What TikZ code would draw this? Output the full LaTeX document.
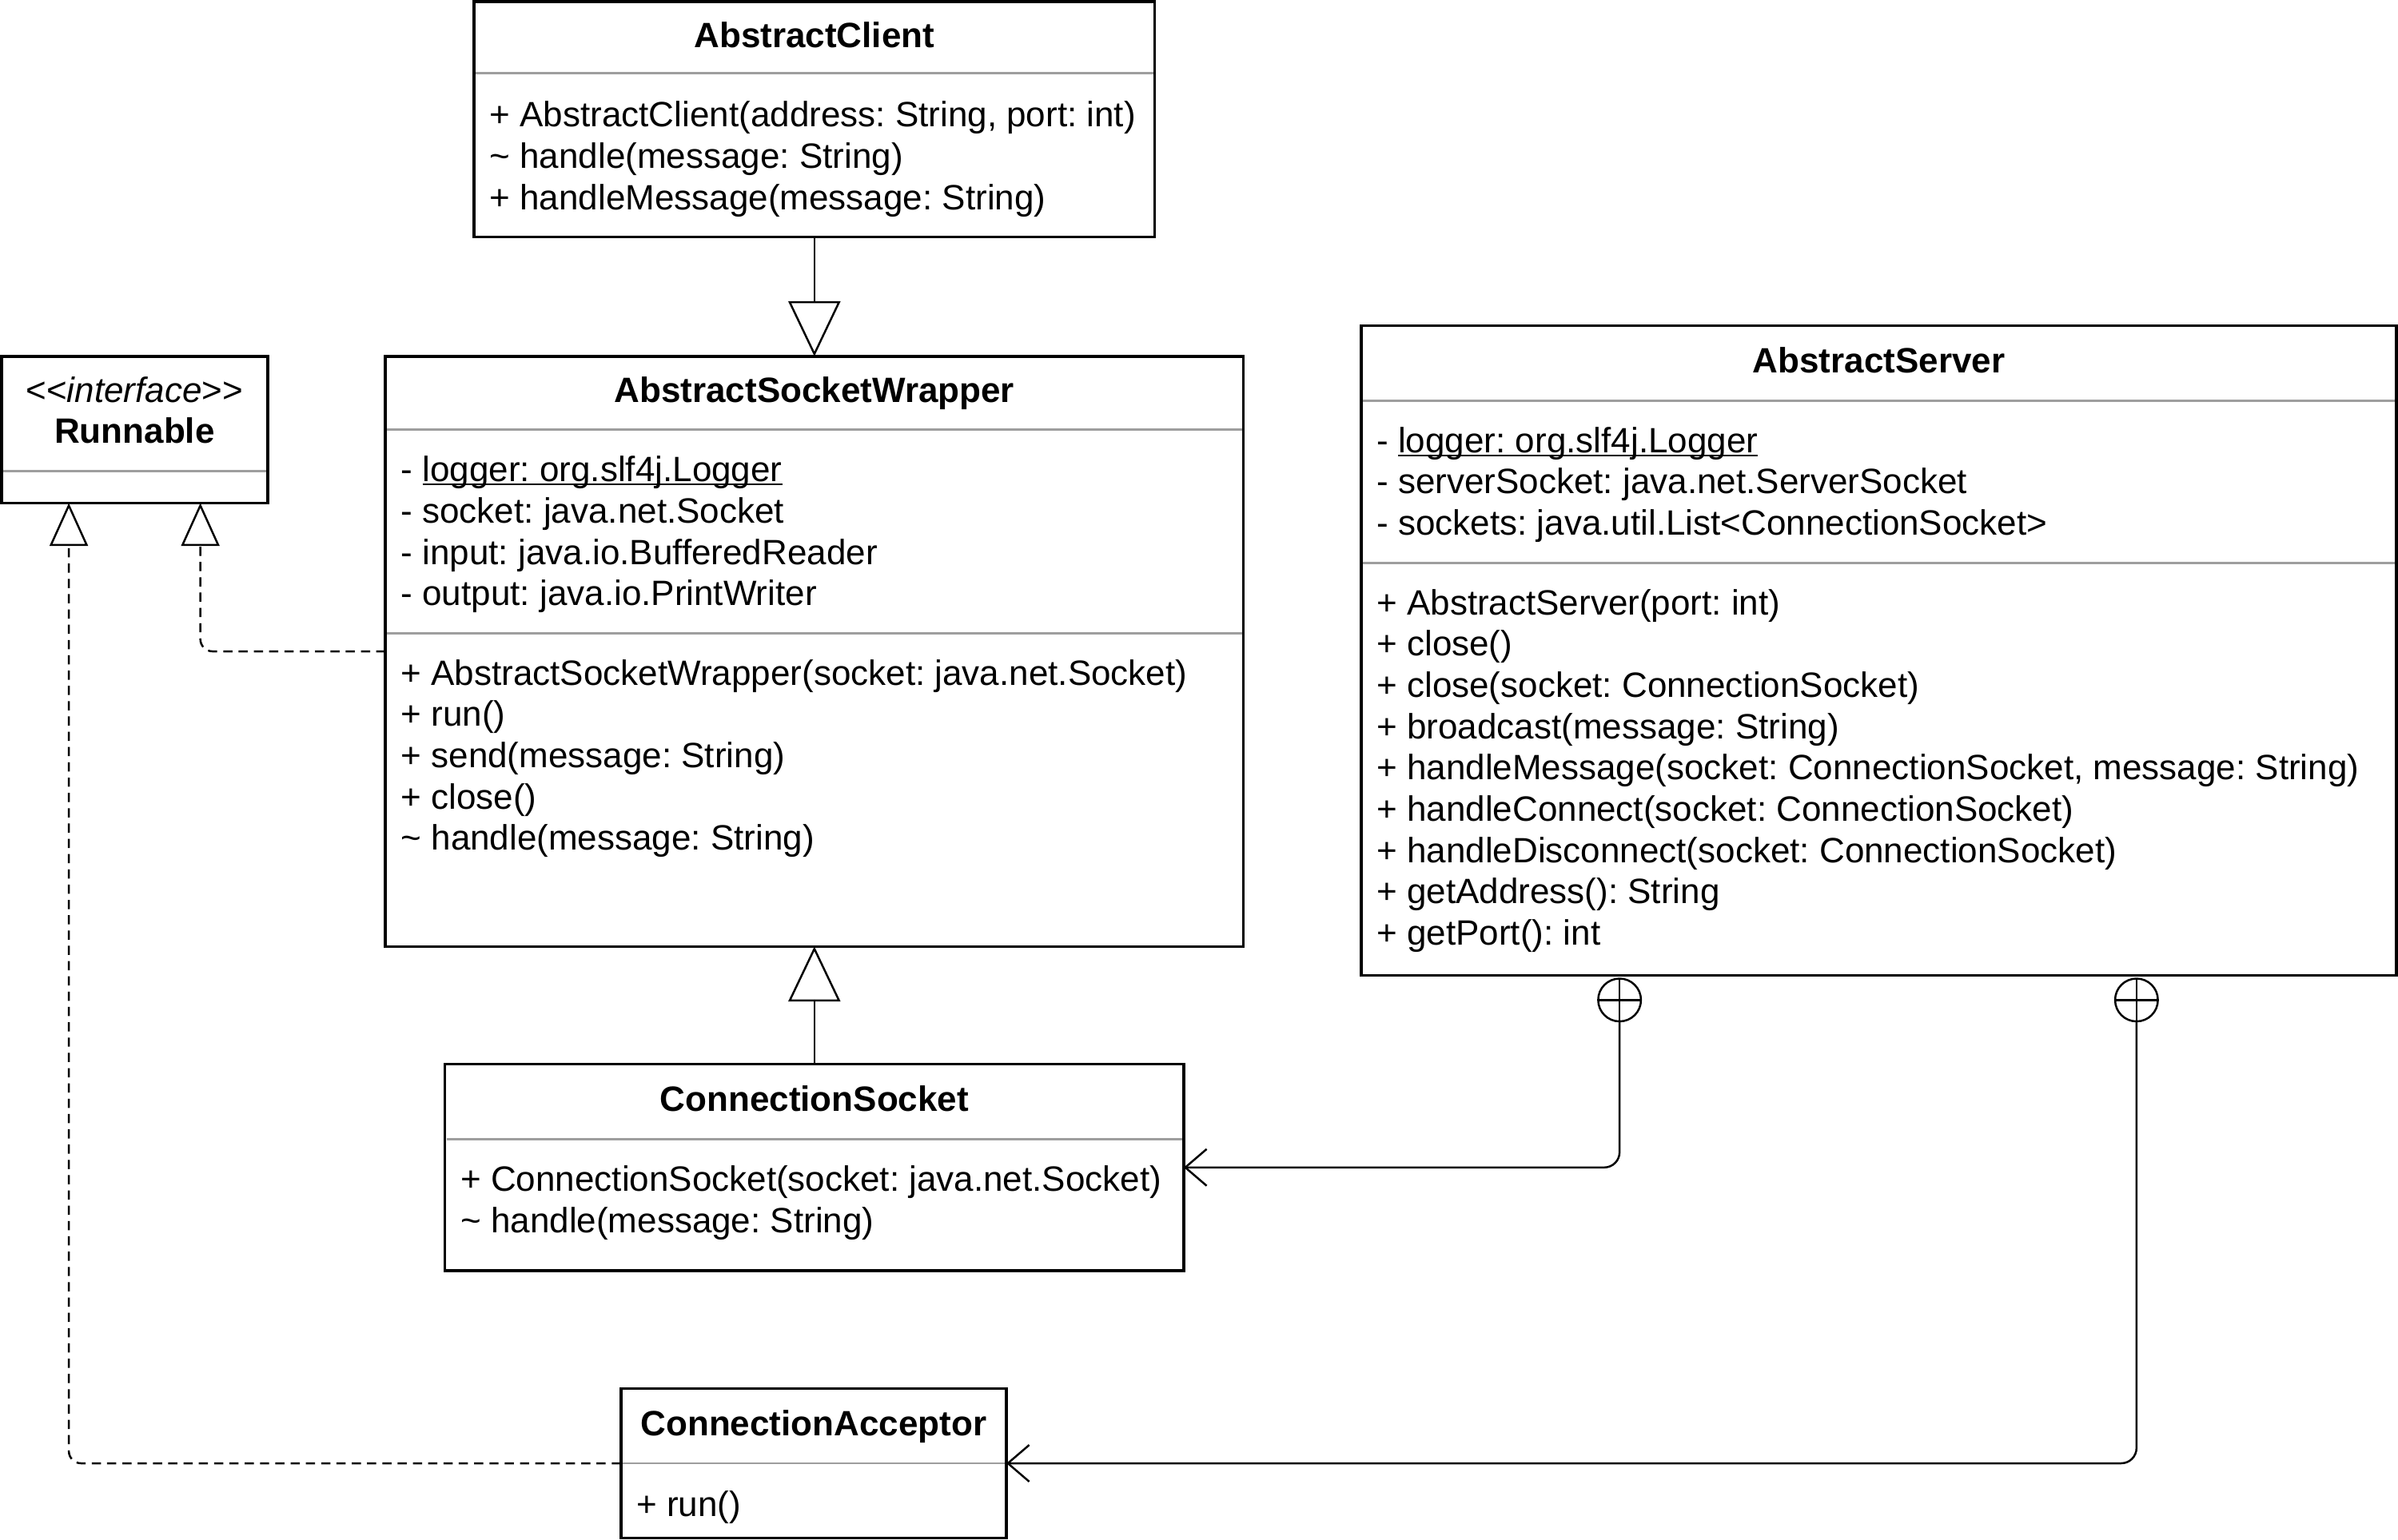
\documentclass[tikz,border=0pt]{standalone}
\usepackage{fontspec}
\setmainfont{Liberation Sans}
\usetikzlibrary{arrows.meta}
\frenchspacing
\newcommand\myunderline[1]{{\setbox0\hbox{#1}\rlap{\rule[-2.5pt]{\wd0}{1.3pt}}\box0}}
\tikzset{
 classbox/.style={draw, line width=1.8pt, anchor=north west, inner sep=0pt, outer sep=0pt},
 sepline/.style={draw=black!38, line width=1.5pt},
 ttl/.style={anchor=base, font=\fontsize{23}{27}\selectfont\bfseries, inner sep=0pt},
 row/.style={anchor=base west, font=\fontsize{23}{27}\selectfont\frenchspacing, inner sep=0pt},
 gen/.style={line width=1.3pt, -{Triangle[open, length=36pt, width=34pt, line width=1.3pt]}},
 real/.style={line width=1.3pt, dash pattern=on 6pt off 4pt, rounded corners=8pt, -{Triangle[open, length=28pt, width=25pt, line width=1.3pt]}},
 assoc/.style={line width=1.3pt, rounded corners=10pt, -{Straight Barb[length=14pt, width=24pt, line width=1.3pt]}},
 nest/.style={circle, draw, line width=1.3pt, minimum size=28pt, inner sep=0pt, outer sep=0pt},
}
\begin{document}
\begin{tikzpicture}[x=1pt, y=-1pt]
\useasboundingbox (0,0) rectangle (1568,1007);

% AbstractClient
\node[classbox, minimum width=445pt, minimum height=154pt] (ac) at (310,1) {};
\draw[sepline] (311,48) -- (754,48);
\node[ttl] at (532.5,31) {AbstractClient};
\node[row] at (320,83) {+ AbstractClient(address: String, port: int)};
\node[row] at (320,110) {\textasciitilde{} handle(message: String)};
\node[row] at (320,137) {+ handleMessage(message: String)};

% AbstractSocketWrapper
\node[classbox, minimum width=561pt, minimum height=386pt] (asw) at (252,233) {};
\draw[sepline] (253,281) -- (812,281);
\draw[sepline] (253,414) -- (812,414);
\node[ttl] at (532.5,263) {AbstractSocketWrapper};
\node[row] at (262,315) {- \myunderline{logger: org.slf4j.Logger}};
\node[row] at (262,342) {- socket: java.net.Socket};
\node[row] at (262,369) {- input: java.io.BufferedReader};
\node[row] at (262,396) {- output: java.io.PrintWriter};
\node[row] at (262,448) {+ AbstractSocketWrapper(socket: java.net.Socket)};
\node[row] at (262,475) {+ run()};
\node[row] at (262,502) {+ send(message: String)};
\node[row] at (262,529) {+ close()};
\node[row] at (262,556) {\textasciitilde{} handle(message: String)};

% Runnable
\node[classbox, minimum width=174pt, minimum height=96pt] (run) at (1,233) {};
\draw[sepline] (2,308) -- (174,308);
\node[row, anchor=base] at (88,263) {{<}{<}\textit{interface}{>}{>}};
\node[ttl] at (88,290) {Runnable};

% AbstractServer
\node[classbox, minimum width=677pt, minimum height=425pt] (srv) at (890,213) {};
\draw[sepline] (891,262) -- (1566,262);
\draw[sepline] (891,368) -- (1566,368);
\node[ttl] at (1228.5,244) {AbstractServer};
\node[row] at (900,296) {- \myunderline{logger: org.slf4j.Logger}};
\node[row] at (900,323) {- serverSocket: java.net.ServerSocket};
\node[row] at (900,350) {- sockets: java.util.List{<}ConnectionSocket{>}};
\node[row] at (900,402) {+ AbstractServer(port: int)};
\node[row] at (900,429) {+ close()};
\node[row] at (900,456) {+ close(socket: ConnectionSocket)};
\node[row] at (900,483) {+ broadcast(message: String)};
\node[row] at (900,510) {+ handleMessage(socket: ConnectionSocket, message: String)};
\node[row] at (900,537) {+ handleConnect(socket: ConnectionSocket)};
\node[row] at (900,564) {+ handleDisconnect(socket: ConnectionSocket)};
\node[row] at (900,591) {+ getAddress(): String};
\node[row] at (900,618) {+ getPort(): int};

% ConnectionSocket
\node[classbox, minimum width=483pt, minimum height=135pt] (cs) at (291,696) {};
\draw[sepline] (292,745) -- (773,745);
\node[ttl] at (532.5,727) {ConnectionSocket};
\node[row] at (301,779) {+ ConnectionSocket(socket: java.net.Socket)};
\node[row] at (301,806) {\textasciitilde{} handle(message: String)};

% ConnectionAcceptor
\node[classbox, minimum width=252pt, minimum height=98pt] (ca) at (406,908) {};
\draw[sepline] (407,957) -- (657,957);
\node[ttl] at (532,939) {ConnectionAcceptor};
\node[row] at (416,992) {+ run()};

% nesting symbols
\node[nest] (n1) at (1059,654) {};
\draw[line width=1.3pt] (n1.north) -- (n1.south) (n1.west) -- (n1.east);
\node[nest] (n2) at (1397,654) {};
\draw[line width=1.3pt] (n2.north) -- (n2.south) (n2.west) -- (n2.east);

% connectors
\draw[gen] (ac.south) -- (asw.north);
\draw[gen] (cs.north) -- (asw.south);
\draw[real] (asw.west) -| ([xshift=43pt]run.south);
\draw[real] (ca.west) -| ([xshift=-43pt]run.south);
\draw[assoc] (n1.south) |- (cs.east);
\draw[assoc] (n2.south) |- (ca.east);
\end{tikzpicture}
\end{document}
